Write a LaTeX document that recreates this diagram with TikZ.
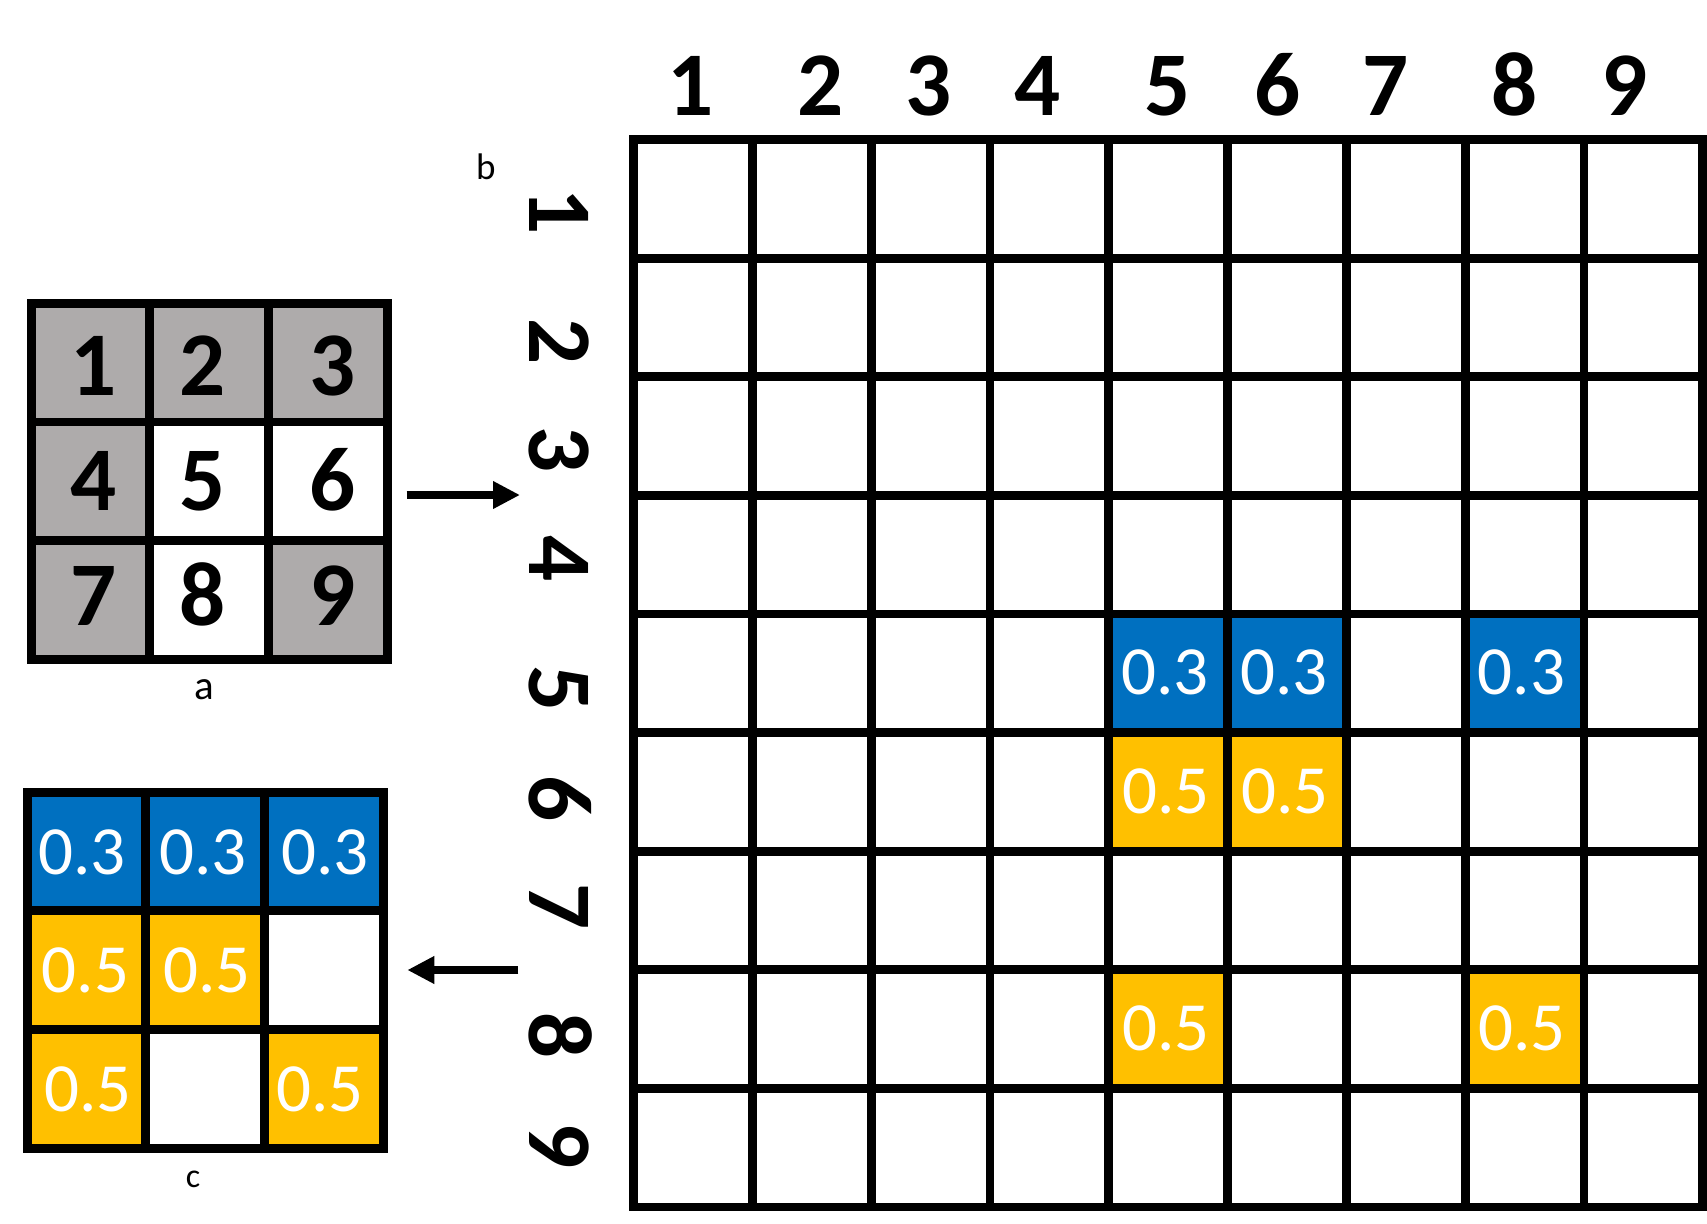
\documentclass[tikz,border=0pt]{standalone}
\usepackage{fontspec}
\setmainfont{Carlito}
\usetikzlibrary{arrows.meta}
\definecolor{cellgray}{RGB}{174,171,171}
\definecolor{cellblue}{RGB}{0,112,192}
\definecolor{cellgold}{RGB}{255,192,0}
\begin{document}
\begin{tikzpicture}[x=1pt,y=-1pt,
  gridline/.style={line width=8.8pt},
  bignum/.style={font=\fontsize{91}{91}\selectfont\bfseries, inner sep=0pt, anchor=base},
  valnum/.style={font=\fontsize{69}{69}\selectfont, text=white, inner sep=0pt, anchor=base},
  caption/.style={inner sep=0pt, anchor=base},
  conn/.style={line width=8.5pt, -{Triangle[length=27pt,width=26pt]}}]
\useasboundingbox (0,0) rectangle (1707,1223);

% ---------- grid a ----------
\fill[cellgray] (31.2,303.5) rectangle (387.2,422);
\fill[cellgray] (31.2,422) rectangle (149.5,659.5);
\fill[cellgray] (268.5,540.5) rectangle (387.2,659.5);
\draw[gridline] (31.2,303.5) rectangle (387.2,659.5);
\draw[gridline] (149.5,303.5) -- (149.5,659.5) (268.5,303.5) -- (268.5,659.5)
                (31.2,422) -- (387.2,422) (31.2,540.5) -- (387.2,540.5);
\node[bignum] (a1) at (94,395) {1};
\node[bignum] (a2) at (203,395) {2};
\node[bignum] (a3) at (333,395) {3};
\node[bignum] (a4) at (94,510) {4};
\node[bignum] (a5) at (203,510) {5};
\node[bignum] (a6) at (333,510) {6};
\node[bignum] (a7) at (94,625) {7};
\node[bignum] (a8) at (203,625) {8};
\node[bignum] (a9) at (333,625) {9};
\node[caption, font=\fontsize{41}{41}\selectfont] (capa) at (204,699) {a};

% ---------- grid b ----------
\foreach \r/\c/\col in {5/5/cellblue,5/6/cellblue,5/8/cellblue,6/5/cellgold,6/6/cellgold,8/5/cellgold,8/8/cellgold}{
  \fill[\col] ({633.5+(\c-1)*118.8},{139.5+(\r-1)*118.6}) rectangle ({633.5+\c*118.8},{139.5+\r*118.6});
}
\draw[gridline] (633.5,139.5) rectangle (1702.7,1206.9);
\foreach \i in {1,...,8}{
  \draw[gridline] ({633.5+\i*118.8},139.5) -- ({633.5+\i*118.8},1206.9);
  \draw[gridline] (633.5,{139.5+\i*118.6}) -- (1702.7,{139.5+\i*118.6});
}
\foreach \n/\x in {1/691,2/820.5,3/929,4/1038,5/1168,6/1277.5,7/1385.5,8/1515,9/1624.6}{
  \node[bignum] (h\n) at (\x,115) {\n};
}
\foreach \n/\y in {1/212,2/341.5,3/450,4/559,5/689,6/798.5,7/906.5,8/1036,9/1145.6}{
  \node[bignum, rotate=-90] (r\n) at (529,\y) {\n};
}
\node[valnum] (b55) at (1165,694.9) {0.3};
\node[valnum] (b56) at (1284,694.9) {0.3};
\node[valnum] (b58) at (1521.5,694.9) {0.3};
\node[valnum] (b65) at (1166,813.5) {0.5};
\node[valnum] (b66) at (1285,813.5) {0.5};
\node[valnum] (b85) at (1166,1050.7) {0.5};
\node[valnum] (b88) at (1522,1050.7) {0.5};
\node[caption, font=\fontsize{37}{37}\selectfont] (capb) at (485.8,179) {b};

% ---------- grid c ----------
\fill[cellblue] (27.3,792.7) rectangle (383.5,910.3);
\fill[cellgold] (27.3,910.3) rectangle (264.5,1029.5);
\fill[cellgold] (27.3,1029.5) rectangle (145.5,1148.2);
\fill[cellgold] (264.5,1029.5) rectangle (383.5,1148.2);
\draw[gridline] (27.3,792.7) rectangle (383.5,1148.2);
\draw[gridline] (145.5,792.7) -- (145.5,1148.2) (264.5,792.7) -- (264.5,1148.2)
                (27.3,910.3) -- (383.5,910.3) (27.3,1029.5) -- (383.5,1029.5);
\node[valnum] (c1) at (81.7,874) {0.3};
\node[valnum] (c2) at (203.3,874) {0.3};
\node[valnum] (c3) at (325,874) {0.3};
\node[valnum] (c4) at (85.5,992.7) {0.5};
\node[valnum] (c5) at (207,992.7) {0.5};
\node[valnum] (c7) at (88.3,1111.7) {0.5};
\node[valnum] (c9) at (319.7,1111.7) {0.5};
\node[caption, font=\fontsize{34}{34}\selectfont] (capc) at (193,1187) {c};

% ---------- arrows ----------
\coordinate (aout) at (406.7,495);
\coordinate (bin) at (520,495);
\coordinate (bout) at (518.3,970);
\coordinate (cin) at (407.3,970);
\draw[conn] (aout) -- (bin);
\draw[conn] (bout) -- (cin);
\end{tikzpicture}
\end{document}
